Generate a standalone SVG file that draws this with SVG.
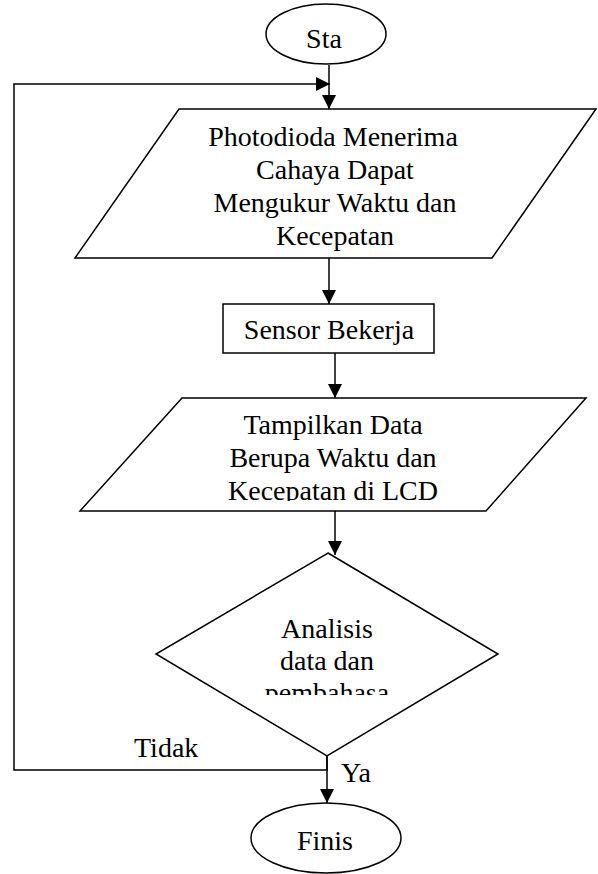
<svg xmlns="http://www.w3.org/2000/svg" width="598" height="874" viewBox="0 0 598 874">
<style>
.s{fill:#fff;stroke:#000;stroke-width:1.5}
.c{fill:none;stroke:#000;stroke-width:1.5}
text{font-family:"Liberation Serif","Times New Roman",serif;font-size:28px;fill:#000}
.m{text-anchor:middle}
</style>
<defs>
<marker id="ah" markerUnits="userSpaceOnUse" markerWidth="14" markerHeight="14" viewBox="0 0 14 14" refX="14" refY="7" orient="auto">
<path d="M0,0 L14,7 L0,14 Z" fill="#000"/>
</marker>
<clipPath id="cp2"><rect x="0" y="398" width="598" height="103"/></clipPath>
<clipPath id="cp3"><rect x="0" y="600" width="598" height="95"/></clipPath>
</defs>
<g id="connectors">
<line class="c" x1="329" y1="65" x2="329" y2="109" marker-end="url(#ah)"/>
<polyline class="c" points="327,756 327,770 14,770 14,84 330,84" marker-end="url(#ah)"/>
<line class="c" x1="329" y1="258" x2="329" y2="304" marker-end="url(#ah)"/>
<line class="c" x1="335" y1="353" x2="335" y2="398" marker-end="url(#ah)"/>
<line class="c" x1="335" y1="511" x2="335" y2="555" marker-end="url(#ah)"/>
<line class="c" x1="327" y1="756" x2="327" y2="803" marker-end="url(#ah)"/>
<text x="134" y="757">Tidak</text>
<text x="341" y="782">Ya</text>
</g>
<g id="start">
<ellipse class="s" cx="326" cy="34" rx="60" ry="30"/>
<text class="m" x="324" y="48">Sta</text>
</g>
<g id="input1">
<polygon class="s" points="179,109 596,109 492,258 75,258"/>
<text class="m" x="333" y="146">Photodioda Menerima</text>
<text class="m" x="335" y="179">Cahaya Dapat</text>
<text class="m" x="335" y="212">Mengukur Waktu dan</text>
<text class="m" x="335" y="245">Kecepatan</text>
</g>
<g id="process">
<rect class="s" x="223" y="304" width="211" height="49"/>
<text class="m" x="329" y="339">Sensor Bekerja</text>
</g>
<g id="output">
<polygon class="s" points="182,398 586,398 486,511 80,511"/>
<g clip-path="url(#cp2)">
<text class="m" x="333" y="434">Tampilkan Data</text>
<text class="m" x="333" y="467">Berupa Waktu dan</text>
<text class="m" x="333" y="500">Kecepatan di LCD</text>
</g>
</g>
<g id="decision">
<polygon class="s" points="328,553 498,654 327,756 156,654"/>
<g clip-path="url(#cp3)">
<text class="m" x="327" y="638">Analisis</text>
<text class="m" x="327" y="670">data dan</text>
<text class="m" x="327" y="702">pembahasa</text>
</g>
</g>
<g id="end">
<ellipse class="s" cx="326" cy="838" rx="75" ry="35"/>
<text class="m" x="325" y="850">Finis</text>
</g>
</svg>
